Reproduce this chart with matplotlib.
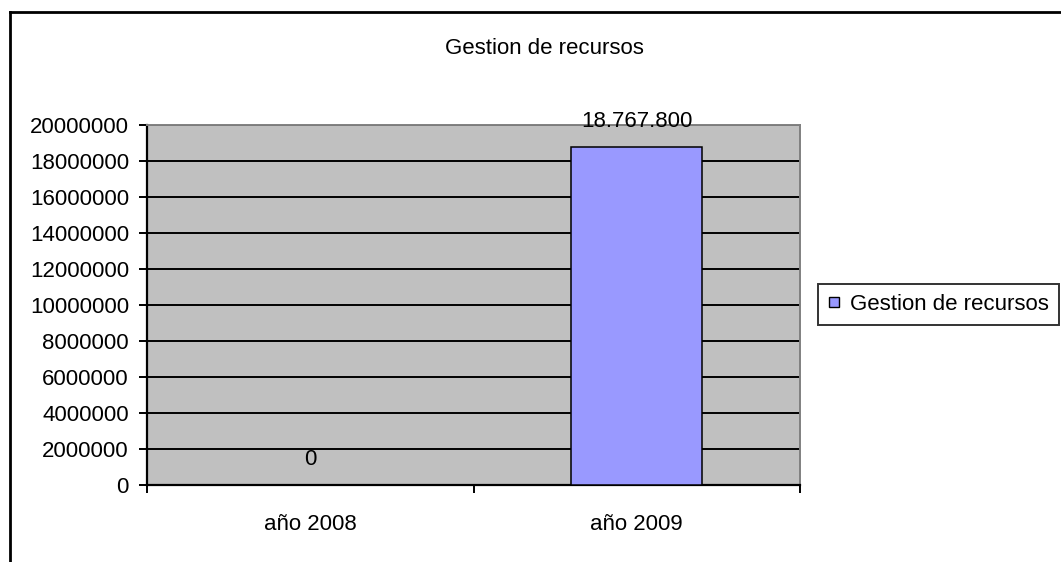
import matplotlib.pyplot as plt
from matplotlib.lines import Line2D

categories = ['año 2008', 'año 2009']
values = [0, 18767800]
value_labels = ['0', '18.767.800']
series_name = 'Gestion de recursos'
yticks = list(range(0, 20000001, 2000000))

plt.rcParams['font.family'] = ['Liberation Sans', 'DejaVu Sans']
fs = 16

W, H = 1061, 562
fig = plt.figure(figsize=(W / 100, H / 100), dpi=100)

# Achsenbereich (Pixel aus der Vorlage)
left, right, top, bottom = 147, 800, 125, 485
ax = fig.add_axes([left / W, 1 - bottom / H, (right - left) / W, (bottom - top) / H])
ax.set_facecolor('#c0c0c0')

x = list(range(len(categories)))
ax.bar(x, values, width=0.4, color='#9999ff', edgecolor='black', linewidth=1.1,
       zorder=3)

for xi, v, lab in zip(x, values, value_labels):
    ax.annotate(lab, (xi, v), xytext=(0, 14.5), textcoords='offset points',
                ha='center', va='baseline', fontsize=fs, zorder=4)

ax.set_xlim(-0.5, len(categories) - 0.5)
ax.set_ylim(0, 20000000)
ax.set_yticks(yticks)
ax.set_yticklabels([str(t) for t in yticks], fontsize=fs)
ax.set_xticks(x)
ax.set_xticklabels(categories, fontsize=fs)
ax.set_xticks([i - 0.5 for i in range(len(categories) + 1)], minor=True)
ax.tick_params(axis='x', which='major', length=0, pad=21)
ax.tick_params(axis='x', which='minor', length=6, width=1.4, direction='out')
ax.tick_params(axis='y', length=6, width=1.4, pad=7)

ax.grid(axis='y', color='black', linewidth=1.4, zorder=1)
ax.set_axisbelow(True)
for s in ['top', 'right']:
    ax.spines[s].set_color('#808080')
    ax.spines[s].set_linewidth(1.4)
for s in ['left', 'bottom']:
    ax.spines[s].set_color('black')
    ax.spines[s].set_linewidth(1.6)

fig.text(544 / W, 1 - 48 / H, 'Gestion de recursos', ha='center', va='center', fontsize=fs)

handle = Line2D([], [], linestyle='none', marker='s', markersize=6.8,
                markerfacecolor='#9999ff', markeredgecolor='black', markeredgewidth=1.0)
leg = fig.legend([handle], [series_name], loc='center left',
                 bbox_to_anchor=(818 / W, 1 - 304 / H),
                 fontsize=fs, frameon=True, fancybox=False, borderaxespad=0,
                 handlelength=0.5, handletextpad=0.5, borderpad=0.45)
leg.get_frame().set_edgecolor('black')
leg.get_frame().set_linewidth(1.4)

# Rahmen des Diagramms (rechts und unten abgeschnitten)
fig.add_artist(Line2D([10 / W, 10 / W], [0, 1 - 12 / H], color='black', linewidth=2,
                      transform=fig.transFigure))
fig.add_artist(Line2D([10 / W, 1], [1 - 12 / H, 1 - 12 / H], color='black', linewidth=2,
                      transform=fig.transFigure))

fig.savefig('out.png', dpi=100)
